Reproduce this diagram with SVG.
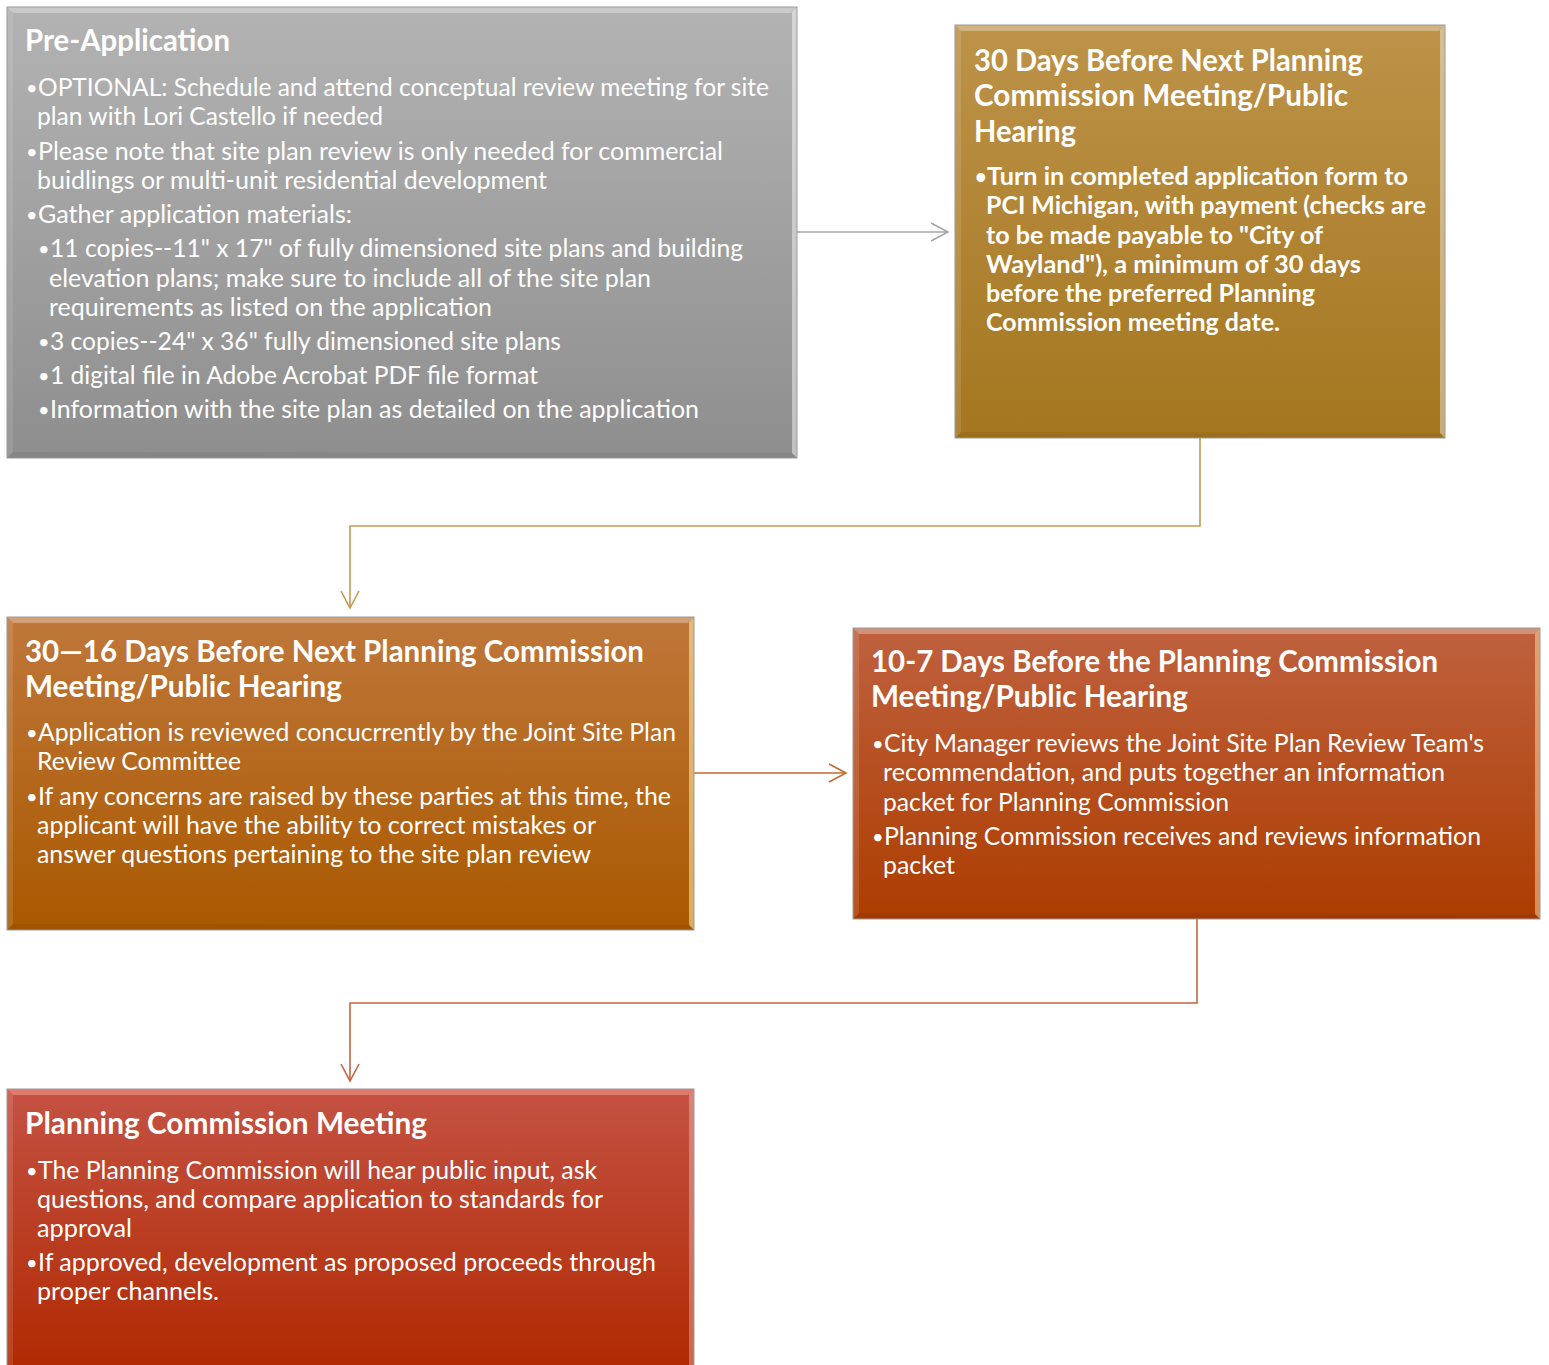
<svg xmlns="http://www.w3.org/2000/svg" width="1549" height="1365" viewBox="0 0 1549 1365">
<style>
.t{font-family:Lato,"Open Sans","Liberation Sans",sans-serif;fill:#ffffff;}
.h{font-size:30px;font-weight:bold;}
.b{font-size:25px;}
.bb{font-size:25px;font-weight:bold;}
.dot{font-size:20px;}
.edge{fill:none;stroke:#9a9a9a;stroke-width:1;}
.conn{fill:none;stroke-width:1.6;}
</style>
<defs>
<linearGradient id="g1" x1="0" y1="0" x2="0" y2="1"><stop offset="0" stop-color="#b3b3b3"/><stop offset="1" stop-color="#8e8e8e"/></linearGradient>
<linearGradient id="g2" x1="0" y1="0" x2="0" y2="1"><stop offset="0" stop-color="#bd9349"/><stop offset="1" stop-color="#a4761f"/></linearGradient>
<linearGradient id="g3" x1="0" y1="0" x2="0" y2="1"><stop offset="0" stop-color="#bf773a"/><stop offset="1" stop-color="#aa5900"/></linearGradient>
<linearGradient id="g4" x1="0" y1="0" x2="0" y2="1"><stop offset="0" stop-color="#bf613f"/><stop offset="1" stop-color="#ad3d00"/></linearGradient>
<linearGradient id="g5" x1="0" y1="0" x2="0" y2="1"><stop offset="0" stop-color="#c45243"/><stop offset="1" stop-color="#b02800"/></linearGradient>
<marker id="m1" markerUnits="userSpaceOnUse" markerWidth="20" markerHeight="20" viewBox="0 0 20 20" refX="18" refY="10" orient="auto"><path d="M1,1 L18,10 L1,19" fill="none" stroke="#a6a6a6" stroke-width="1.6"/></marker>
<marker id="m2" markerUnits="userSpaceOnUse" markerWidth="20" markerHeight="20" viewBox="0 0 20 20" refX="18" refY="10" orient="auto"><path d="M1,1 L18,10 L1,19" fill="none" stroke="#c39c52" stroke-width="1.6"/></marker>
<marker id="m3" markerUnits="userSpaceOnUse" markerWidth="20" markerHeight="20" viewBox="0 0 20 20" refX="18" refY="10" orient="auto"><path d="M1,1 L18,10 L1,19" fill="none" stroke="#c4682c" stroke-width="1.6"/></marker>
<marker id="m4" markerUnits="userSpaceOnUse" markerWidth="20" markerHeight="20" viewBox="0 0 20 20" refX="18" refY="10" orient="auto"><path d="M1,1 L18,10 L1,19" fill="none" stroke="#c4643f" stroke-width="1.6"/></marker>
</defs>
<rect width="1549" height="1365" fill="#ffffff"/>

<g id="connectors">
<path class="conn" d="M797,232 L948,232" stroke="#a6a6a6" marker-end="url(#m1)"/>
<path class="conn" d="M1200,438 L1200,526 L350,526 L350,608" stroke="#c39c52" marker-end="url(#m2)"/>
<path class="conn" d="M694,773 L846,773" stroke="#c4682c" marker-end="url(#m3)"/>
<path class="conn" d="M1197,919 L1197,1003 L350,1003 L350,1081" stroke="#c4643f" marker-end="url(#m4)"/>
</g>

<g id="node-pre-application">
<rect x="7" y="7" width="790" height="451" fill="url(#g1)"/>
<polygon points="7,7 797,7 791,13 13,13" fill="#ffffff" fill-opacity="0.3"/>
<polygon points="7,7 13,13 13,452 7,458" fill="#ffffff" fill-opacity="0.1"/>
<polygon points="797,7 797,458 792,453 792,12" fill="#ffffff" fill-opacity="0.45"/>
<polygon points="7,458 13,452 792,453 797,458" fill="#000000" fill-opacity="0.06"/>
<rect class="edge" x="7" y="7" width="790" height="451"/>
<text class="t h" x="25" y="51" textLength="205" lengthAdjust="spacingAndGlyphs">Pre-Application</text>
<text class="t dot" x="26" y="95">•</text>
<text class="t b" x="38" y="96" textLength="731" lengthAdjust="spacingAndGlyphs">OPTIONAL: Schedule and attend conceptual review meeting for site</text>
<text class="t b" x="37" y="125" textLength="346" lengthAdjust="spacingAndGlyphs">plan with Lori Castello if needed</text>
<text class="t dot" x="26" y="159">•</text>
<text class="t b" x="38" y="160" textLength="685" lengthAdjust="spacingAndGlyphs">Please note that site plan review is only needed for commercial</text>
<text class="t b" x="37" y="189" textLength="510" lengthAdjust="spacingAndGlyphs">buidlings or multi-unit residential development</text>
<text class="t dot" x="26" y="222">•</text>
<text class="t b" x="38" y="223" textLength="314" lengthAdjust="spacingAndGlyphs">Gather application materials:</text>
<text class="t dot" x="38" y="256">•</text>
<text class="t b" x="50" y="257" textLength="693" lengthAdjust="spacingAndGlyphs">11 copies--11" x 17" of fully dimensioned site plans and building</text>
<text class="t b" x="49" y="287" textLength="602" lengthAdjust="spacingAndGlyphs">elevation plans; make sure to include all of the site plan</text>
<text class="t b" x="49" y="316" textLength="443" lengthAdjust="spacingAndGlyphs">requirements as listed on the application</text>
<text class="t dot" x="38" y="349">•</text>
<text class="t b" x="50" y="350" textLength="511" lengthAdjust="spacingAndGlyphs">3 copies--24" x 36" fully dimensioned site plans</text>
<text class="t dot" x="38" y="383">•</text>
<text class="t b" x="50" y="384" textLength="488" lengthAdjust="spacingAndGlyphs">1 digital file in Adobe Acrobat PDF file format</text>
<text class="t dot" x="38" y="417">•</text>
<text class="t b" x="50" y="418" textLength="649" lengthAdjust="spacingAndGlyphs">Information with the site plan as detailed on the application</text>
</g>

<g id="node-30-days">
<rect x="955" y="25" width="490" height="413" fill="url(#g2)"/>
<polygon points="955,25 1445,25 1439,31 961,31" fill="#ffffff" fill-opacity="0.3"/>
<polygon points="955,25 961,31 961,432 955,438" fill="#ffffff" fill-opacity="0.12"/>
<polygon points="1445,25 1445,438 1440,433 1440,30" fill="#ffffff" fill-opacity="0.4"/>
<polygon points="955,438 961,432 1440,433 1445,438" fill="#000000" fill-opacity="0.06"/>
<rect class="edge" x="955" y="25" width="490" height="413"/>
<text class="t h" x="974" y="71" textLength="389" lengthAdjust="spacingAndGlyphs">30 Days Before Next Planning</text>
<text class="t h" x="974" y="106" textLength="374" lengthAdjust="spacingAndGlyphs">Commission Meeting/Public</text>
<text class="t h" x="974" y="142" textLength="102" lengthAdjust="spacingAndGlyphs">Hearing</text>
<text class="t dot" x="975" y="184" font-weight="bold">•</text>
<text class="t bb" x="987" y="185" textLength="421" lengthAdjust="spacingAndGlyphs">Turn in completed application form to</text>
<text class="t bb" x="986" y="214" textLength="440" lengthAdjust="spacingAndGlyphs">PCI Michigan, with payment (checks are</text>
<text class="t bb" x="986" y="244" textLength="337" lengthAdjust="spacingAndGlyphs">to be made payable to "City of</text>
<text class="t bb" x="986" y="273" textLength="375" lengthAdjust="spacingAndGlyphs">Wayland"), a minimum of 30 days</text>
<text class="t bb" x="986" y="302" textLength="329" lengthAdjust="spacingAndGlyphs">before the preferred Planning</text>
<text class="t bb" x="986" y="331" textLength="294" lengthAdjust="spacingAndGlyphs">Commission meeting date.</text>
</g>

<g id="node-30-16-days">
<rect x="7" y="617" width="687" height="313" fill="url(#g3)"/>
<polygon points="7,617 694,617 688,623 13,623" fill="#ffffff" fill-opacity="0.3"/>
<polygon points="7,617 13,623 13,924 7,930" fill="#ffffff" fill-opacity="0.12"/>
<polygon points="694,617 694,930 689,925 689,622" fill="#fff2b0" fill-opacity="0.55"/>
<polygon points="7,930 13,924 689,925 694,930" fill="#000000" fill-opacity="0.06"/>
<rect class="edge" x="7" y="617" width="687" height="313"/>
<text class="t h" x="25" y="662" textLength="619" lengthAdjust="spacingAndGlyphs">30—16 Days Before Next Planning Commission</text>
<text class="t h" x="25" y="697" textLength="317" lengthAdjust="spacingAndGlyphs">Meeting/Public Hearing</text>
<text class="t dot" x="26" y="740">•</text>
<text class="t b" x="38" y="741" textLength="638" lengthAdjust="spacingAndGlyphs">Application is reviewed concucrrently by the Joint Site Plan</text>
<text class="t b" x="37" y="770" textLength="204" lengthAdjust="spacingAndGlyphs">Review Committee</text>
<text class="t dot" x="26" y="804">•</text>
<text class="t b" x="38" y="805" textLength="633" lengthAdjust="spacingAndGlyphs">If any concerns are raised by these parties at this time, the</text>
<text class="t b" x="37" y="834" textLength="559" lengthAdjust="spacingAndGlyphs">applicant will have the ability to correct mistakes or</text>
<text class="t b" x="37" y="863" textLength="554" lengthAdjust="spacingAndGlyphs">answer questions pertaining to the site plan review</text>
</g>

<g id="node-10-7-days">
<rect x="853" y="628" width="687" height="291" fill="url(#g4)"/>
<polygon points="853,628 1540,628 1534,634 859,634" fill="#ffffff" fill-opacity="0.3"/>
<polygon points="853,628 859,634 859,913 853,919" fill="#ffffff" fill-opacity="0.12"/>
<polygon points="1540,628 1540,919 1535,914 1535,633" fill="#ffe0b0" fill-opacity="0.5"/>
<polygon points="853,919 859,913 1535,914 1540,919" fill="#000000" fill-opacity="0.06"/>
<rect class="edge" x="853" y="628" width="687" height="291"/>
<text class="t h" x="871" y="672" textLength="567" lengthAdjust="spacingAndGlyphs">10-7 Days Before the Planning Commission</text>
<text class="t h" x="871" y="707" textLength="317" lengthAdjust="spacingAndGlyphs">Meeting/Public Hearing</text>
<text class="t dot" x="872" y="751">•</text>
<text class="t b" x="884" y="752" textLength="600" lengthAdjust="spacingAndGlyphs">City Manager reviews the Joint Site Plan Review Team's</text>
<text class="t b" x="883" y="781" textLength="562" lengthAdjust="spacingAndGlyphs">recommendation, and puts together an information</text>
<text class="t b" x="883" y="811" textLength="346" lengthAdjust="spacingAndGlyphs">packet for Planning Commission</text>
<text class="t dot" x="872" y="844">•</text>
<text class="t b" x="884" y="845" textLength="597" lengthAdjust="spacingAndGlyphs">Planning Commission receives and reviews information</text>
<text class="t b" x="883" y="874" textLength="72" lengthAdjust="spacingAndGlyphs">packet</text>
</g>

<g id="node-planning-commission-meeting">
<rect x="7" y="1089" width="687" height="290" fill="url(#g5)"/>
<polygon points="7,1089 694,1089 688,1095 13,1095" fill="#ffb0a0" fill-opacity="0.45"/>
<polygon points="7,1089 13,1095 13,1379 7,1379" fill="#ffffff" fill-opacity="0.12"/>
<polygon points="694,1089 694,1379 689,1379 689,1094" fill="#ffffff" fill-opacity="0.3"/>
<rect class="edge" x="7" y="1089" width="687" height="290"/>
<text class="t h" x="25" y="1134" textLength="402" lengthAdjust="spacingAndGlyphs">Planning Commission Meeting</text>
<text class="t dot" x="26" y="1178">•</text>
<text class="t b" x="38" y="1179" textLength="559" lengthAdjust="spacingAndGlyphs">The Planning Commission will hear public input, ask</text>
<text class="t b" x="37" y="1208" textLength="566" lengthAdjust="spacingAndGlyphs">questions, and compare application to standards for</text>
<text class="t b" x="37" y="1237" textLength="95" lengthAdjust="spacingAndGlyphs">approval</text>
<text class="t dot" x="26" y="1270">•</text>
<text class="t b" x="38" y="1271" textLength="618" lengthAdjust="spacingAndGlyphs">If approved, development as proposed proceeds through</text>
<text class="t b" x="37" y="1300" textLength="182" lengthAdjust="spacingAndGlyphs">proper channels.</text>
</g>
</svg>
